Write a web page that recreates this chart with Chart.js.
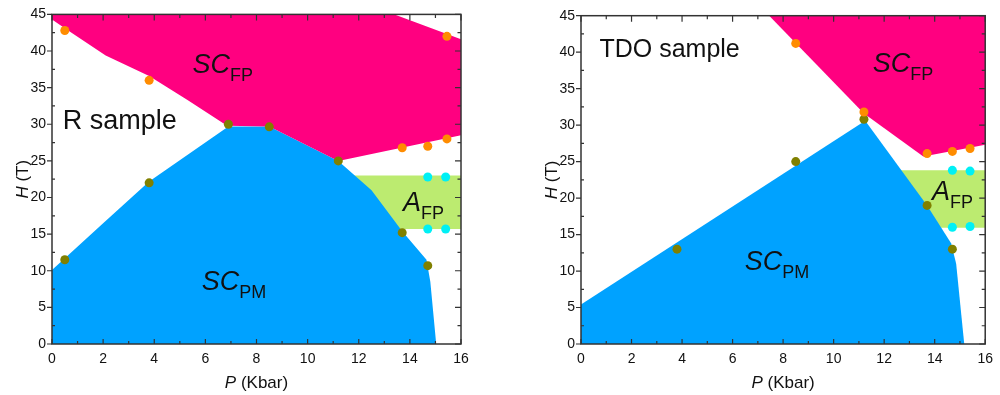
<!DOCTYPE html>
<html>
<head>
<meta charset="utf-8">
<script src="https://cdn.jsdelivr.net/npm/chart.js@4.4.0/dist/chart.umd.min.js"></script>
<style>
  html, body { margin: 0; padding: 0; background: #fff; }
  #wrap { position: relative; width: 1000px; height: 395px; }
  canvas { position: absolute; top: 0; }
</style>
</head>
<body>
<div id="wrap">
  <canvas id="left" width="500" height="395" style="left:0"></canvas>
  <canvas id="right" width="500" height="395" style="left:500px"></canvas>
</div>
<script>
// ---------- Data: R sample ----------
const rOrangeP = [0.5, 3.8, 13.7, 14.7, 15.45, 15.45];
const rOrangeH = [42.8, 36.0, 26.8, 27.0, 28.0, 42.0];
const rOliveP  = [0.5, 3.8, 6.9, 8.5, 11.2, 13.7, 14.7];
const rOliveH  = [11.5, 22.0, 30.0, 29.65, 25.0, 15.2, 10.7];
const rCyanP   = [14.7, 15.4, 14.7, 15.4];
const rCyanH   = [22.8, 22.8, 15.7, 15.7];
// phase regions (boundary vertices)
const rScfpP = [0, 0.5, 2.1, 3.8, 5.3, 6.85, 8.5, 11.2, 16, 16, 13.4, 0];
const rScfpH = [44.3, 43.1, 39.4, 36.6, 33.3, 29.8, 29.7, 25.0, 28.5, 41.6, 45, 45];
const rScpmP = [0, 0, 2, 3.8, 6.9, 8.5, 11.2, 12.5, 13.7, 14.65, 14.8, 15.03];
const rScpmH = [0, 10.1, 16.5, 22.2, 29.7, 29.7, 25.0, 21.0, 15.4, 11.5, 8.5, 0];
const rAfpP  = [11.6, 16, 16, 13.4];
const rAfpH  = [23.0, 23.0, 15.7, 15.7];

// ---------- Data: TDO sample ----------
const tOrangeP = [8.5, 11.2, 13.7, 14.7, 15.4];
const tOrangeH = [41.2, 31.8, 26.1, 26.4, 26.8];
const tOliveP  = [3.8, 8.5, 11.2, 13.7, 14.7];
const tOliveH  = [13.0, 25.0, 30.8, 19.0, 13.0];
const tCyanP   = [14.7, 15.4, 14.7, 15.4];
const tCyanH   = [23.8, 23.7, 16.0, 16.1];
const tScfpP = [7.45, 16, 16, 13.55, 11.2];
const tScfpH = [45, 45, 27.3, 25.7, 31.6];
const tScpmP = [0, 0, 11.25, 13.7, 14.65, 14.85, 15.17];
const tScpmH = [0, 5.4, 30.6, 19.0, 13.8, 11.0, 0];
const tAfpP  = [12.5, 16, 16, 14.0];
const tAfpH  = [23.8, 23.8, 15.95, 15.95];

// tick values
const xMajor = [0, 2, 4, 6, 8, 10, 12, 14, 16];
const yMajor = [0, 5, 10, 15, 20, 25, 30, 35, 40, 45];

const COL = {
  pink: '#FF0080', blue: '#00A2FF', green: '#BCEB70',
  orange: '#FF8C00', olive: '#808000', cyan: '#00F0F5', axis: '#333333', text: '#111111'
};
const FONT = "'Liberation Sans', Arial, sans-serif";

const zip = (xs, ys) => xs.map((x, i) => ({ x, y: ys[i] }));

const polyPlugin = {
  id: 'poly',
  beforeDatasetsDraw(chart) {
    const ctx = chart.ctx, a = chart.chartArea;
    ctx.save();
    ctx.beginPath();
    ctx.rect(a.left, a.top, a.right - a.left, a.bottom - a.top);
    ctx.clip();
    chart.data.datasets.forEach((ds, i) => {
      if (!ds.polyColor) return;
      const meta = chart.getDatasetMeta(i);
      ctx.beginPath();
      meta.data.forEach((pt, j) => j ? ctx.lineTo(pt.x, pt.y) : ctx.moveTo(pt.x, pt.y));
      ctx.closePath();
      ctx.fillStyle = ds.polyColor;
      ctx.fill();
    });
    ctx.restore();
  }
};

function drawMixed(ctx, parts, x, y, align) {
  let total = 0;
  parts.forEach(p => { ctx.font = p.font; p.w = ctx.measureText(p.t).width; total += p.w; });
  let cx = align === 'center' ? x - total / 2 : x;
  ctx.textAlign = 'left';
  ctx.textBaseline = 'alphabetic';
  parts.forEach(p => { ctx.font = p.font; ctx.fillText(p.t, cx, y + (p.dy || 0)); cx += p.w; });
}

const framePlugin = {
  id: 'frame',
  afterDatasetsDraw(chart) {
    const ctx = chart.ctx, a = chart.chartArea;
    const xs = chart.scales.x, ys = chart.scales.y;
    ctx.save();
    ctx.strokeStyle = COL.axis;
    ctx.lineWidth = 1.5;
    ctx.strokeRect(a.left, a.top, a.right - a.left, a.bottom - a.top);
    ctx.lineWidth = 1.2;
    ctx.beginPath();
    for (let v = 0; v <= 16; v += 1) {
      const px = xs.getPixelForValue(v);
      const maj = v % 2 === 0;
      ctx.moveTo(px, a.bottom); ctx.lineTo(px, a.bottom - (maj ? 5 : 3));
      ctx.moveTo(px, a.top); ctx.lineTo(px, a.top + (maj ? 6 : 3.5));
    }
    for (let v = 0; v <= 45; v += 2.5) {
      const py = ys.getPixelForValue(v);
      const maj = v % 5 === 0;
      if (maj) { ctx.moveTo(a.left, py); ctx.lineTo(a.left - 5, py); }
      else { ctx.moveTo(a.left, py); ctx.lineTo(a.left + 3, py); }
      ctx.moveTo(a.right, py); ctx.lineTo(a.right - (maj ? 6 : 3.5), py);
    }
    ctx.stroke();

    // axis titles
    ctx.fillStyle = COL.text;
    drawMixed(ctx, [
      { t: 'P', font: `italic 17px ${FONT}` },
      { t: ' (Kbar)', font: `17px ${FONT}` }
    ], (a.left + a.right) / 2, a.bottom + 44, 'center');
    ctx.save();
    ctx.translate(a.left - 24.5, (a.top + a.bottom) / 2);
    ctx.rotate(-Math.PI / 2);
    drawMixed(ctx, [
      { t: 'H', font: `italic 17px ${FONT}` },
      { t: ' (T)', font: `17px ${FONT}` }
    ], 0, 0, 'center');
    ctx.restore();

    // region labels
    const lab = chart.options.plugins.frame.labels || [];
    lab.forEach(L => {
      const px = xs.getPixelForValue(L.p), py = ys.getPixelForValue(L.h);
      if (L.sub) {
        drawMixed(ctx, [
          { t: L.main, font: `italic 27px ${FONT}` },
          { t: L.sub, font: `18px ${FONT}`, dy: 8 }
        ], px, py, 'left');
      } else {
        drawMixed(ctx, [{ t: L.main, font: `${L.size}px ${FONT}` }], px, py, 'left');
      }
    });
    ctx.restore();
  }
};

function makeChart(id, d, yWidth, pad, labels) {
  const pts = (data, color) => ({
    data, showLine: false, pointRadius: 4.5, pointHoverRadius: 4.5,
    pointBackgroundColor: color, pointBorderWidth: 0, borderColor: color, backgroundColor: color
  });
  const poly = (data, color) => ({
    data, polyColor: color, showLine: false, pointRadius: 0, pointHoverRadius: 0, borderWidth: 0
  });
  return new Chart(document.getElementById(id), {
    type: 'scatter',
    data: {
      datasets: [
        poly(zip(d.afpP, d.afpH), COL.green),
        poly(zip(d.scpmP, d.scpmH), COL.blue),
        poly(zip(d.scfpP, d.scfpH), COL.pink),
        pts(zip(d.orangeP, d.orangeH), COL.orange),
        pts(zip(d.oliveP, d.oliveH), COL.olive),
        pts(zip(d.cyanP, d.cyanH), COL.cyan)
      ]
    },
    options: {
      responsive: false,
      animation: false,
      events: [],
      layout: { padding: pad },
      plugins: { legend: { display: false }, tooltip: { enabled: false }, frame: { labels } },
      scales: {
        x: {
          type: 'linear', min: 0, max: 16,
          afterBuildTicks: s => { s.ticks = xMajor.map(v => ({ value: v })); },
          ticks: { color: COL.text, font: { size: 14, family: FONT }, padding: 7, maxRotation: 0 },
          grid: { display: false, drawTicks: false, tickLength: 0 }, border: { display: false },
          afterFit: s => { s.height = 51; }
        },
        y: {
          type: 'linear', min: 0, max: 45,
          afterBuildTicks: s => { s.ticks = yMajor.map(v => ({ value: v })); },
          ticks: { color: COL.text, font: { size: 14, family: FONT }, padding: 6 },
          grid: { display: false, drawTicks: false, tickLength: 0 }, border: { display: false },
          afterFit: s => { s.width = yWidth; }
        }
      }
    },
    plugins: [polyPlugin, framePlugin]
  });
}

makeChart('left', {
  orangeP: rOrangeP, orangeH: rOrangeH, oliveP: rOliveP, oliveH: rOliveH,
  cyanP: rCyanP, cyanH: rCyanH, scfpP: rScfpP, scfpH: rScfpH,
  scpmP: rScpmP, scpmH: rScpmH, afpP: rAfpP, afpH: rAfpH
}, 52, { left: 0, right: 39, top: 14, bottom: 0 }, [
  { main: 'R sample', size: 27, p: 0.42, h: 29.3 },
  { main: 'SC', sub: 'FP', p: 5.5, h: 37.0 },
  { main: 'SC', sub: 'PM', p: 5.86, h: 7.4 },
  { main: 'A', sub: 'FP', p: 13.73, h: 18.2 }
]);

makeChart('right', {
  orangeP: tOrangeP, orangeH: tOrangeH, oliveP: tOliveP, oliveH: tOliveH,
  cyanP: tCyanP, cyanH: tCyanH, scfpP: tScfpP, scfpH: tScfpH,
  scpmP: tScpmP, scpmH: tScpmH, afpP: tAfpP, afpH: tAfpH
}, 81, { left: 0, right: 9, top: 15.7, bottom: 0 }, [
  { main: 'TDO sample', size: 25, p: 0.73, h: 39.4 },
  { main: 'SC', sub: 'FP', p: 11.55, h: 37.35 },
  { main: 'SC', sub: 'PM', p: 6.48, h: 10.1 },
  { main: 'A', sub: 'FP', p: 13.89, h: 19.75 }
]);
</script>
</body>
</html>
